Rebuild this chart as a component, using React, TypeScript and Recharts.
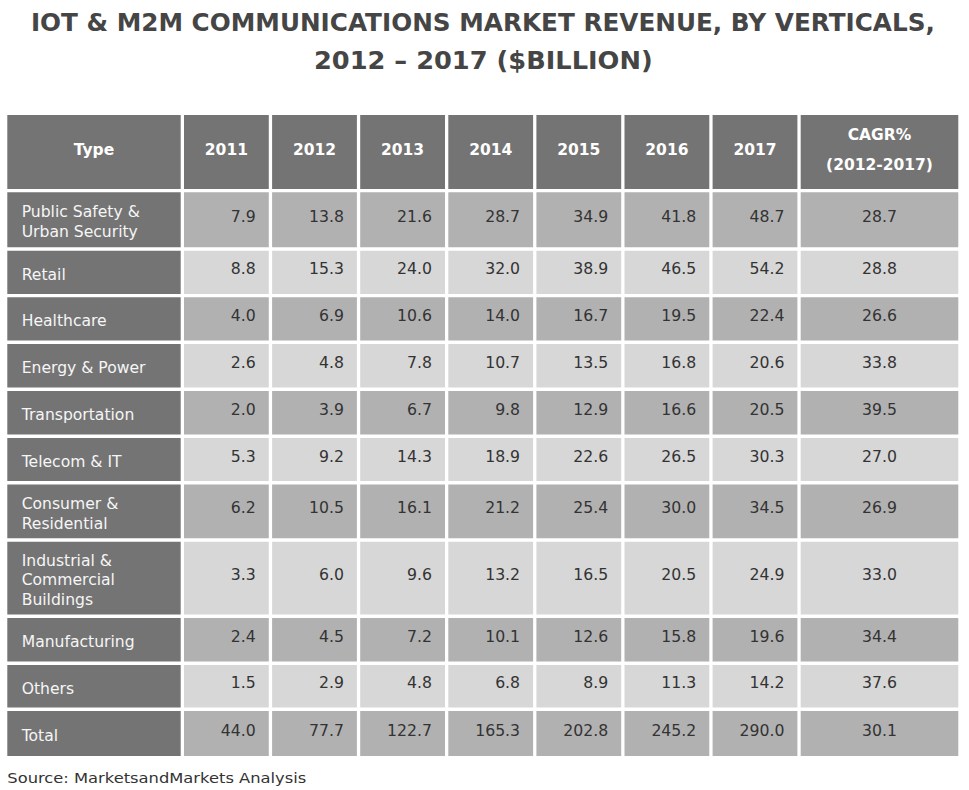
import React from 'react';
import { ComposedChart, XAxis, YAxis, ReferenceArea } from 'recharts';

// ---------- data ----------
const titleLines = ['IOT & M2M COMMUNICATIONS MARKET REVENUE, BY VERTICALS,', '2012 \u2013 2017 ($BILLION)'];
const sourceText = 'Source: MarketsandMarkets Analysis';
const headers = ['Type', '2011', '2012', '2013', '2014', '2015', '2016', '2017', 'CAGR%\n(2012-2017)'];
const verticals = [
  'Public Safety &\nUrban Security',
  'Retail',
  'Healthcare',
  'Energy & Power',
  'Transportation',
  'Telecom & IT',
  'Consumer &\nResidential',
  'Industrial &\nCommercial\nBuildings',
  'Manufacturing',
  'Others',
  'Total',
];
const v2011 = [7.9, 8.8, 4.0, 2.6, 2.0, 5.3, 6.2, 3.3, 2.4, 1.5, 44.0];
const v2012 = [13.8, 15.3, 6.9, 4.8, 3.9, 9.2, 10.5, 6.0, 4.5, 2.9, 77.7];
const v2013 = [21.6, 24.0, 10.6, 7.8, 6.7, 14.3, 16.1, 9.6, 7.2, 4.8, 122.7];
const v2014 = [28.7, 32.0, 14.0, 10.7, 9.8, 18.9, 21.2, 13.2, 10.1, 6.8, 165.3];
const v2015 = [34.9, 38.9, 16.7, 13.5, 12.9, 22.6, 25.4, 16.5, 12.6, 8.9, 202.8];
const v2016 = [41.8, 46.5, 19.5, 16.8, 16.6, 26.5, 30.0, 20.5, 15.8, 11.3, 245.2];
const v2017 = [48.7, 54.2, 22.4, 20.6, 20.5, 30.3, 34.5, 24.9, 19.6, 14.2, 290.0];
const cagr = [28.7, 28.8, 26.6, 33.8, 39.5, 27.0, 26.9, 33.0, 34.4, 37.6, 30.1];

const yearSeries = [v2011, v2012, v2013, v2014, v2015, v2016, v2017];

// ---------- layout (sizes & styles) ----------
const W = 969;
const H = 790;
const tableX = 7.3;
const tableY = 115;
const colWidths = [173.4, 84.8, 84.8, 84.8, 84.8, 84.8, 84.8, 84.8, 157.6];
const colGap = 3.3;
const rowHeights = [73.9, 55, 43.2, 43.3, 43.6, 43.6, 43.1, 53.8, 72.9, 43.6, 42.6, 45];
const rowGap = 3.4;
const FONT = '"DejaVu Sans", Verdana, sans-serif';
const HEADER_BG = '#747474';
const DARK_BG = '#b1b1b1';
const LIGHT_BG = '#d7d7d7';

const colEdges = (() => {
  const out: [number, number][] = [];
  let x = tableX;
  colWidths.forEach((w) => {
    out.push([x, x + w]);
    x += w + colGap;
  });
  return out;
})();
const rowEdges = (() => {
  const out: [number, number][] = [];
  let y = tableY;
  rowHeights.forEach((h) => {
    out.push([y, y + h]);
    y += h + rowGap;
  });
  return out;
})();

type Kind = 'header' | 'type' | 'num' | 'cagr';

const CellLabel = (props: any) => {
  const vb = props.viewBox || {};
  const { x = 0, y = 0, width = 0, height = 0 } = vb;
  const kind: Kind = props.kind;
  const lines: string[] = String(props.text).split('\n');
  const cy = y + height / 2;
  if (kind === 'header') {
    const lh = 30;
    const base = cy + 3 - ((lines.length - 1) * lh) / 2;
    return (
      <text x={x + width / 2} textAnchor="middle" fontFamily={FONT} fontWeight="bold" fontSize={15.5} fill="#ffffff">
        {lines.map((l, i) => (
          <tspan key={i} x={x + width / 2} y={base + i * lh}>{l}</tspan>
        ))}
      </text>
    );
  }
  if (kind === 'type') {
    const lh = 19.8;
    const base = cy + 7.3 - ((lines.length - 1) * lh) / 2;
    return (
      <text x={x + 14.4} textAnchor="start" fontFamily={FONT} fontSize={15.6} fill="#f6f6f6">
        {lines.map((l, i) => (
          <tspan key={i} x={x + 14.4} y={base + i * lh}>{l}</tspan>
        ))}
      </text>
    );
  }
  const anchorX = kind === 'num' ? x + width - 13 : x + width / 2;
  return (
    <text
      x={anchorX}
      y={cy + 2}
      textAnchor={kind === 'num' ? 'end' : 'middle'}
      fontFamily={FONT}
      fontSize={15.7}
      fill="#333333"
    >
      {lines[0]}
    </text>
  );
};

const tableRows = verticals.map((name, i) => ({
  name,
  y2011: v2011[i],
  y2012: v2012[i],
  y2013: v2013[i],
  y2014: v2014[i],
  y2015: v2015[i],
  y2016: v2016[i],
  y2017: v2017[i],
  cagr: cagr[i],
}));

export default function App() {
  const areas: React.ReactNode[] = [];
  // header row
  headers.forEach((h, c) => {
    const [x1, x2] = colEdges[c];
    const [y1, y2] = rowEdges[0];
    areas.push(
      <ReferenceArea
        key={`h-${c}`}
        x1={x1}
        x2={x2}
        y1={y1}
        y2={y2}
        fill={HEADER_BG}
        fillOpacity={1}
        stroke="none"
        ifOverflow="visible"
        label={<CellLabel kind="header" text={h} />}
      />
    );
  });
  // body rows
  tableRows.forEach((row, r) => {
    const [y1, y2] = rowEdges[r + 1];
    const bg = r % 2 === 0 ? DARK_BG : LIGHT_BG;
    const cells: { text: string; kind: Kind; fill: string }[] = [
      { text: row.name, kind: 'type', fill: HEADER_BG },
      ...yearSeries.map((s) => ({ text: s[r].toFixed(1), kind: 'num' as Kind, fill: bg })),
      { text: row.cagr.toFixed(1), kind: 'cagr', fill: bg },
    ];
    cells.forEach((cell, c) => {
      const [x1, x2] = colEdges[c];
      areas.push(
        <ReferenceArea
          key={`c-${r}-${c}`}
          x1={x1}
          x2={x2}
          y1={y1}
          y2={y2}
          fill={cell.fill}
          fillOpacity={1}
          stroke="none"
          ifOverflow="visible"
          label={<CellLabel kind={cell.kind} text={cell.text} />}
        />
      );
    });
  });

  return (
    <div style={{ position: 'absolute', left: 0, top: 0, width: W, height: H, background: '#ffffff' }}>
      <ComposedChart width={W} height={H} data={tableRows} margin={{ top: 0, right: 0, bottom: 0, left: 0 }}>
        <XAxis type="number" dataKey="cagr" domain={[0, W]} allowDataOverflow hide />
        <YAxis type="number" domain={[0, H]} allowDataOverflow reversed hide />
        {areas}
      </ComposedChart>
      <svg width={W} height={H} style={{ position: 'absolute', left: 0, top: 0, pointerEvents: 'none' }}>
        <text
          x={482.9}
          y={30.7}
          textAnchor="middle"
          fontFamily={FONT}
          fontWeight="bold"
          fontSize={24.6}
          fill="#454545"
          textLength={904}
          lengthAdjust="spacingAndGlyphs"
        >
          {titleLines[0]}
        </text>
        <text
          x={483.3}
          y={69.3}
          textAnchor="middle"
          fontFamily={FONT}
          fontWeight="bold"
          fontSize={24.6}
          fill="#454545"
          textLength={338.7}
          lengthAdjust="spacingAndGlyphs"
        >
          {titleLines[1]}
        </text>
        <text x={7.3} y={783.3} fontFamily={FONT} fontSize={14.6} fill="#333333" textLength={299} lengthAdjust="spacingAndGlyphs">
          {sourceText}
        </text>
      </svg>
    </div>
  );
}
